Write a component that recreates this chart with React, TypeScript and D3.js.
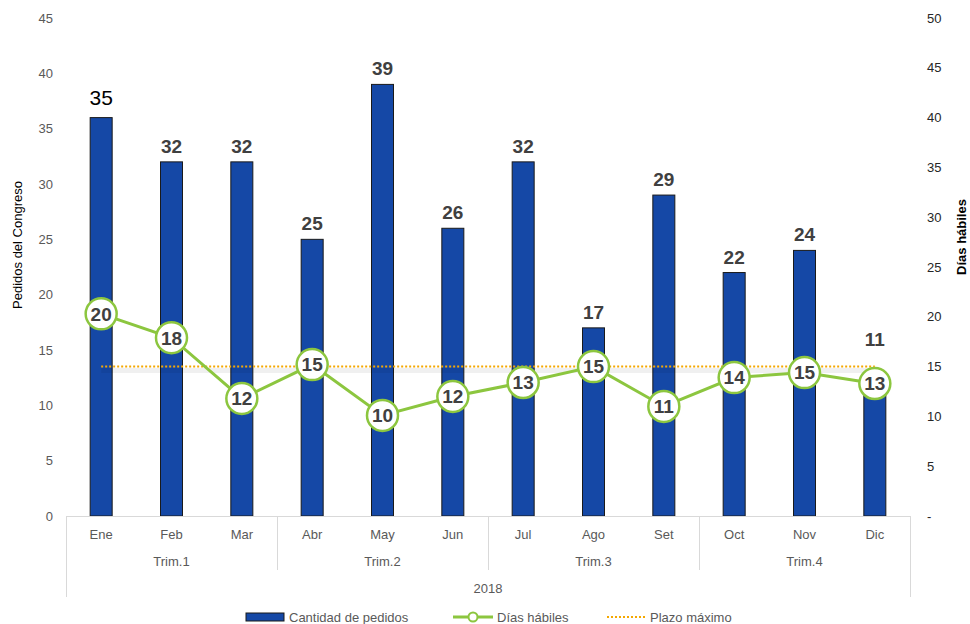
import React from "react";
import * as d3 from "d3";

const months = ["Ene", "Feb", "Mar", "Abr", "May", "Jun", "Jul", "Ago", "Set", "Oct", "Nov", "Dic"];
const quarters = ["Trim.1", "Trim.2", "Trim.3", "Trim.4"];
const year = "2018";
const pedidos = [36, 32, 32, 25, 39, 26, 32, 17, 29, 22, 24, 11];
const pedidosLabels = ["35", "32", "32", "25", "39", "26", "32", "17", "29", "22", "24", "11"];
const diasHabiles = [20.3, 17.9, 11.8, 15.2, 10.1, 12, 13.4, 15, 11, 13.9, 14.4, 13.3];
const diasLabels = ["20", "18", "12", "15", "10", "12", "13", "15", "11", "14", "15", "13"];
const plazoMaximo = 15;
const leftTicks = [0, 5, 10, 15, 20, 25, 30, 35, 40, 45];
const rightTicks = [0, 5, 10, 15, 20, 25, 30, 35, 40, 45, 50];

const W = 970, H = 624;
const FONT = "'Liberation Sans', Arial, sans-serif";
const BLUE = "#1548a6";
const GREEN = "#8cc63f";
const ORANGE = "#f5a800";

export default function App() {
  const x0 = 66, x1 = 910, yTop = 18, yBase = 516;
  const x = d3.scaleBand<string>().domain(months).range([x0, x1]).paddingInner(0).paddingOuter(0);
  const yL = d3.scaleLinear().domain([0, 45]).range([yBase, yTop]);
  const yR = d3.scaleLinear().domain([0, 50]).range([yBase, yTop]);
  const bw = 22;
  const cx = (m: string) => (x(m) as number) + x.bandwidth() / 2;
  const line = d3.line<number>().x((_, i) => cx(months[i])).y((d) => yR(d));

  return (
    <svg width={W} height={H} style={{ position: "absolute", left: 0, top: 0, fontFamily: FONT }}>
      <rect width={W} height={H} fill="#fff" />
      {leftTicks.map((t) => (
        <text key={"l" + t} x={53} y={yL(t)} dy="0.35em" textAnchor="end" fontSize={13} fill="#595959">{t}</text>
      ))}
      {rightTicks.map((t) => (
        <text key={"r" + t} x={927} y={yR(t)} dy="0.35em" textAnchor="start" fontSize={13} fill="#262626">{t === 0 ? "-" : t}</text>
      ))}
      <text transform={`translate(22,245) rotate(-90)`} textAnchor="middle" fontSize={13} fill="#000">Pedidos del Congreso</text>
      <text transform={`translate(966,237) rotate(-90)`} textAnchor="middle" fontSize={13} fontWeight="bold" fill="#000">Días hábiles</text>

      {pedidos.map((v, i) => (
        <rect key={"b" + i} x={cx(months[i]) - bw / 2} y={yL(v)} width={bw} height={yBase - yL(v)} fill={BLUE} stroke="#1a1a1a" strokeWidth={1} />
      ))}
      {pedidos.map((v, i) => {
        const ly = Math.min(yL(v) - 9, yR(diasHabiles[i]) - 38);
        return i === 0 ? (
          <text key={"bl" + i} x={cx(months[i])} y={yL(v) - 13} textAnchor="middle" fontSize={21} fill="#000">{pedidosLabels[i]}</text>
        ) : (
          <text key={"bl" + i} x={cx(months[i])} y={ly} textAnchor="middle" fontSize={19} fontWeight="bold" fill="#404040">{pedidosLabels[i]}</text>
        );
      })}

      <line x1={x0} x2={x1} y1={yBase + 0.5} y2={yBase + 0.5} stroke="#d9d9d9" />
      <line x1={x0 + 0.5} x2={x0 + 0.5} y1={yBase} y2={597} stroke="#d9d9d9" />
      <line x1={x1 + 0.5} x2={x1 + 0.5} y1={yBase} y2={597} stroke="#d9d9d9" />
      {[1, 2, 3].map((q) => {
        const xx = (x(months[q * 3]) as number) + 0.5;
        return <line key={"q" + q} x1={xx} x2={xx} y1={yBase} y2={570} stroke="#d9d9d9" />;
      })}
      {months.map((m) => (
        <text key={"m" + m} x={cx(m)} y={534} dy="0.35em" textAnchor="middle" fontSize={13} fill="#595959">{m}</text>
      ))}
      {quarters.map((q, i) => {
        const xa = x(months[i * 3]) as number;
        const xb = (x(months[i * 3 + 2]) as number) + x.bandwidth();
        return <text key={q} x={(xa + xb) / 2} y={561} dy="0.35em" textAnchor="middle" fontSize={13} fill="#595959">{q}</text>;
      })}
      <text x={(x0 + x1) / 2} y={588} dy="0.35em" textAnchor="middle" fontSize={13} fill="#595959">{year}</text>

      <line x1={cx(months[0])} x2={cx(months[11])} y1={yR(plazoMaximo) + 4} y2={yR(plazoMaximo) + 4} stroke="#000" strokeOpacity={0.06} strokeWidth={5} />
      <line x1={cx(months[0])} x2={cx(months[11])} y1={yR(plazoMaximo)} y2={yR(plazoMaximo)} stroke={ORANGE} strokeWidth={2} strokeDasharray="2 2" />

      <path d={line(diasHabiles) as string} fill="none" stroke={GREEN} strokeWidth={3} />
      {diasHabiles.map((v, i) => (
        <g key={"d" + i}>
          <circle cx={cx(months[i])} cy={yR(v)} r={15.5} fill="#fff" stroke={GREEN} strokeWidth={2.5} />
          <text x={cx(months[i])} y={yR(v)} dy="0.36em" textAnchor="middle" fontSize={19} fontWeight="bold" fill="#404040">{diasLabels[i]}</text>
        </g>
      ))}

      <rect x={246} y={613} width={38} height={8} fill={BLUE} stroke="#1a1a1a" />
      <text x={289} y={617} dy="0.35em" fontSize={13} fill="#595959">Cantidad de pedidos</text>
      <line x1={453} x2={493} y1={617} y2={617} stroke={GREEN} strokeWidth={3} />
      <circle cx={473} cy={617} r={4.5} fill="#fff" stroke={GREEN} strokeWidth={2} />
      <text x={497} y={617} dy="0.35em" fontSize={13} fill="#595959">Días hábiles</text>
      <line x1={607} x2={645} y1={617} y2={617} stroke={ORANGE} strokeWidth={2} strokeDasharray="2 2" />
      <text x={650} y={617} dy="0.35em" fontSize={13} fill="#595959">Plazo máximo</text>
    </svg>
  );
}
